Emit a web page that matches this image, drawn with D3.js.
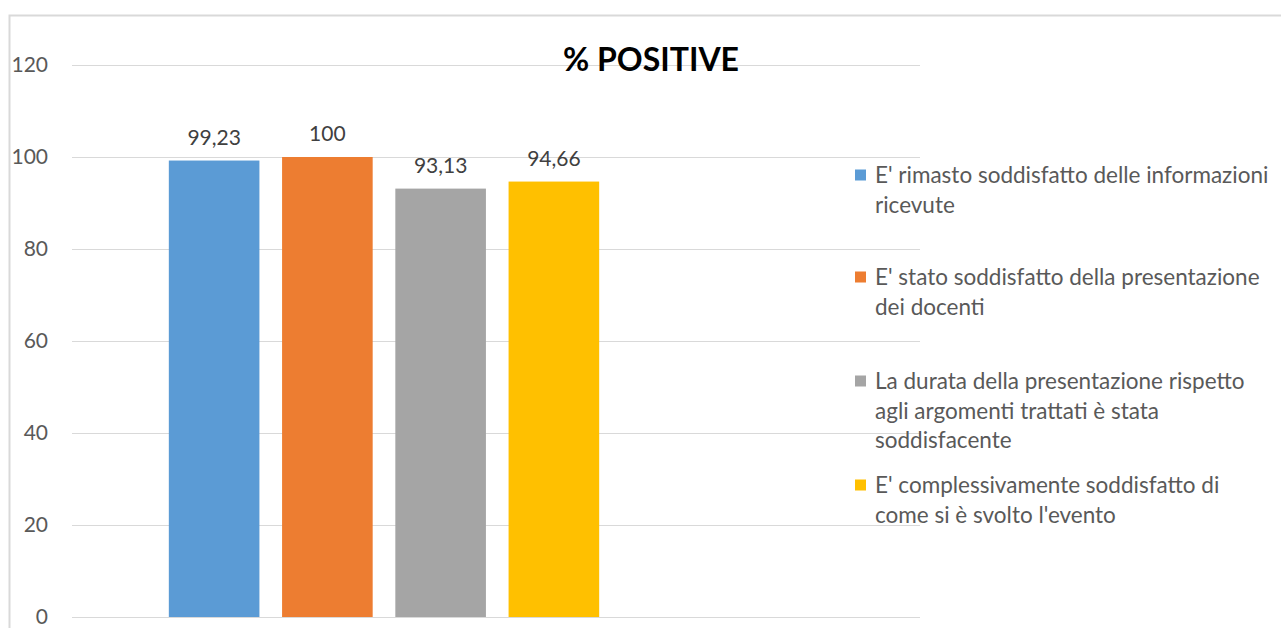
<!DOCTYPE html>
<html><head><meta charset="utf-8">
<script src="https://cdn.jsdelivr.net/npm/d3@7"></script>
<style>body{margin:0;background:#fff}svg{display:block}</style>
</head><body>
<svg id="c" width="1281" height="628"></svg>
<script>
const title = "% POSITIVE";
const series = [
  "E' rimasto soddisfatto delle informazioni ricevute",
  "E' stato soddisfatto della presentazione dei docenti",
  "La durata della presentazione rispetto agli argomenti trattati è stata soddisfacente",
  "E' complessivamente soddisfatto di come si è svolto l'evento"
];
const legendLines = [
  ["E' rimasto soddisfatto delle informazioni", "ricevute"],
  ["E' stato soddisfatto della presentazione", "dei docenti"],
  ["La durata della presentazione rispetto", "agli argomenti trattati è stata", "soddisfacente"],
  ["E' complessivamente soddisfatto di", "come si è svolto l'evento"]
];
const values = [99.23, 100, 93.13, 94.66];
const valueLabels = ["99,23", "100", "93,13", "94,66"];
const colors = ["#5b9bd5", "#ed7d31", "#a5a5a5", "#ffc000"];
const yTicks = [0, 20, 40, 60, 80, 100, 120];

const svg = d3.select("#c");
const font = "Lato, 'Open Sans', sans-serif";
// chart frame
svg.append("rect").attr("x", 9.5).attr("y", 15.5).attr("width", 1290).attr("height", 640)
  .attr("fill", "#fff").attr("stroke", "#d9d9d9").attr("stroke-width", 2);

const x0 = 72, x1 = 920;
const y = d3.scaleLinear().domain([0, 120]).range([617, 65]);
const x = d3.scaleBand().domain(series).range([157.5, 610.5]).paddingInner(0.2).paddingOuter(0.1);

// gridlines via axis
const yAxis = d3.axisLeft(y).tickValues(yTicks).tickSize(-(x1 - x0)).tickPadding(24);
const ga = svg.append("g").attr("transform", `translate(${x0},0)`).call(yAxis);
ga.select(".domain").remove();
ga.selectAll(".tick line").attr("stroke", "#d9d9d9").attr("stroke-width", 1.2);
ga.selectAll(".tick text").attr("fill", "#595959").attr("font-size", 21).attr("font-family", font);

svg.append("g").selectAll("rect").data(values).join("rect")
  .attr("x", (d, i) => x(series[i])).attr("width", x.bandwidth())
  .attr("y", d => y(d)).attr("height", d => y(0) - y(d))
  .attr("fill", (d, i) => colors[i]);

svg.append("g").selectAll("text").data(values).join("text")
  .attr("x", (d, i) => x(series[i]) + x.bandwidth() / 2)
  .attr("y", d => y(d) - 16)
  .attr("text-anchor", "middle").attr("fill", "#404040")
  .attr("font-size", 21).attr("font-family", font)
  .text((d, i) => valueLabels[i]);

svg.append("text").attr("x", 651).attr("y", 71).attr("text-anchor", "middle")
  .attr("font-size", 32).attr("font-weight", "bold").attr("font-family", font)
  .attr("fill", "#000").text(title);

// legend
const legendTop = [175, 277, 381, 485];
const lg = svg.append("g");
legendLines.forEach((lines, i) => {
  lg.append("rect").attr("x", 855).attr("y", legendTop[i] - 5.5).attr("width", 11).attr("height", 11).attr("fill", colors[i]);
  const t = lg.append("text").attr("font-size", 22.5).attr("font-family", font).attr("fill", "#595959");
  lines.forEach((l, j) => {
    t.append("tspan").attr("x", 875).attr("y", legendTop[i] + 8 + j * 29.5).text(l);
  });
});
</script>
</body></html>
